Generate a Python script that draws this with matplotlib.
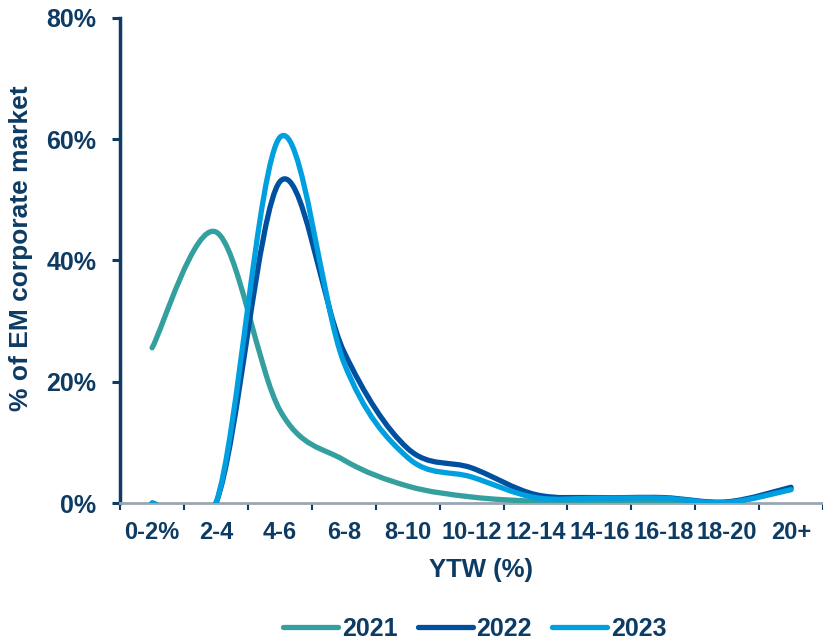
import numpy as np
import matplotlib.pyplot as plt
from matplotlib.path import Path
from matplotlib.patches import PathPatch
from matplotlib.lines import Line2D

plt.rcParams['font.family'] = ['Liberation Sans', 'DejaVu Sans']
plt.rcParams['font.weight'] = 'bold'

categories = ['0-2%', '2-4', '4-6', '6-8', '8-10', '10-12', '12-14',
              '14-16', '16-18', '18-20', '20+']
y2021 = [25.6, 44.7, 15.3, 7.1, 2.8, 1.0, 0.3, 0.2, 0.2, 0.1, 2.3]
y2022 = [0.0, 0.0, 53.0, 25.0, 9.0, 5.8, 1.4, 0.9, 0.9, 0.2, 2.6]
y2023 = [0.0, 0.0, 60.3, 23.2, 7.5, 4.3, 0.9, 0.8, 0.8, 0.1, 2.2]

series = [('2021', y2021, '#33a09f'),
          ('2022', y2022, '#0050a0'),
          ('2023', y2023, '#00a0e0')]

navy = '#0d3b63'


def smooth_path(xs, ys):
    # Excel-like smoothed line: cubic Bezier segments through each point
    pts = np.column_stack([xs, ys]).astype(float)
    n = len(pts)
    verts = [pts[0]]
    codes = [Path.MOVETO]
    for i in range(n - 1):
        p0 = pts[i - 1] if i > 0 else pts[i]
        p1 = pts[i]
        p2 = pts[i + 1]
        p3 = pts[i + 2] if i + 2 < n else pts[i + 1]
        c1 = p1 + (p2 - p0) / 6.0
        c2 = p2 - (p3 - p1) / 6.0
        verts += [c1, c2, p2]
        codes += [Path.CURVE4] * 3
    return Path(verts, codes)


fig = plt.figure(figsize=(8.23, 6.4), dpi=100)
ax = fig.add_axes([0.146, 0.214, 0.854, 0.758])

x = np.arange(len(categories))
for name, vals, col in series:
    patch = PathPatch(smooth_path(x, vals), facecolor='none', edgecolor=col,
                      lw=3.8, capstyle='round', joinstyle='round', zorder=3)
    ax.add_patch(patch)

ax.set_xlim(-0.5, len(categories) - 0.5)
ax.set_ylim(0, 80)

ax.set_yticks([0, 20, 40, 60, 80])
ax.set_yticklabels([f'{v}%' for v in [0, 20, 40, 60, 80]])
ax.set_xticks(x)
ax.set_xticklabels(categories)
ax.set_xticks(np.arange(-0.5, len(categories)), minor=True)

ax.tick_params(axis='y', colors=navy, labelsize=18, length=6, width=2.2, pad=11)
ax.tick_params(axis='x', which='major', colors=navy, labelsize=17, length=0, pad=13)
ax.tick_params(axis='x', which='minor', color=navy, length=5, width=1.5)

for s in ['top', 'right']:
    ax.spines[s].set_visible(False)
ax.spines['left'].set_color(navy)
ax.spines['left'].set_linewidth(2.5)
ax.spines['bottom'].set_color('#9aa6b2')
ax.spines['bottom'].set_linewidth(2)

ax.set_ylabel('% of EM corporate market', color=navy, fontsize=19,
              fontweight='bold')
ax.yaxis.set_label_coords(-0.124, 0.526)
ax.set_xlabel('YTW (%)', color=navy, fontsize=18.5, fontweight='bold')
ax.xaxis.set_label_coords(0.513, -0.113)

handles = [Line2D([0], [0], color=col, lw=3.8, solid_capstyle='round')
           for _, _, col in series]
fig.legend(handles, [s[0] for s in series], loc='center',
           bbox_to_anchor=(0.577, 0.017), ncol=3, frameon=False,
           fontsize=18, handlelength=2.2, handletextpad=0.15, columnspacing=0.8,
           labelcolor=navy)

fig.savefig('out.png', dpi=100)
